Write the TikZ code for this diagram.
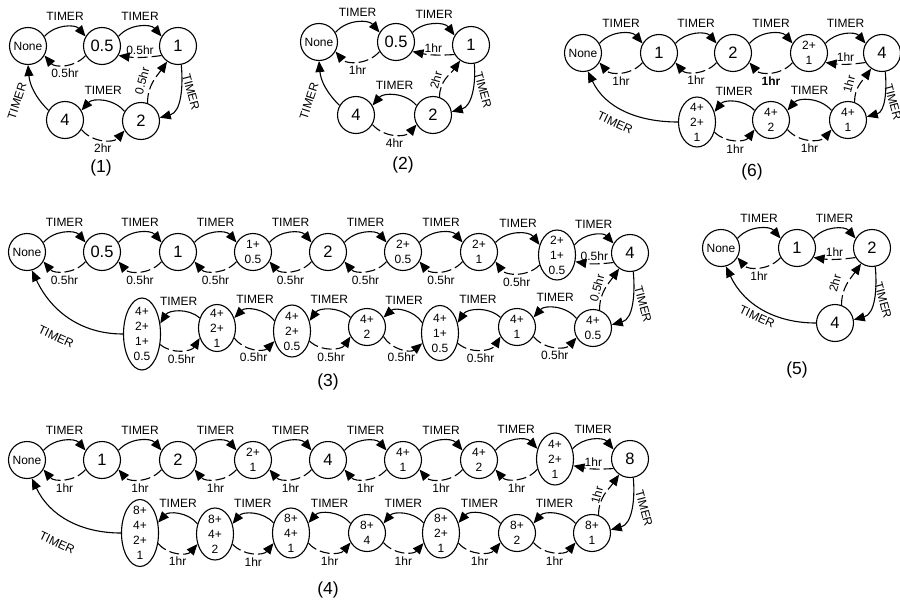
\documentclass[tikz,border=0pt]{standalone}
\usepackage{fontspec}
\setmainfont{Liberation Sans}
\usetikzlibrary{arrows.meta,shapes.geometric}

\tikzset{
  st/.style={draw, circle, line width=1.1pt, minimum size=37pt, inner sep=0pt, font=\fontsize{16.5}{18}\selectfont},
  sm/.style={font=\fontsize{12}{15}\selectfont, align=center},
  stk/.style={draw, ellipse, line width=1.1pt, minimum width=37pt, inner xsep=0pt, inner ysep=-12pt, align=center, font=\fontsize{12}{15}\selectfont},
  tmr/.style={-{Triangle[length=11pt,width=9pt]}, line width=1.1pt},
  bk/.style={tmr, dash pattern=on 10pt off 4pt},
  lbl/.style={font=\fontsize{12}{13}\selectfont, inner sep=1pt},
  ttl/.style={font=\fontsize{17.5}{19}\selectfont},
}

\begin{document}
\begin{tikzpicture}[x=1pt,y=1pt]
  \useasboundingbox (0,0) rectangle (900,-602);

  % (1)
  \node[st,sm] (p1n0) at (28,-46)  {None};
  \node[st]    (p1n1) at (102,-46) {0.5};
  \node[st]    (p1n2) at (178,-46) {1};
  \node[st]    (p1n3) at (141,-121) {2};
  \node[st]    (p1n4) at (65,-120) {4};
  \draw[tmr] (p1n0.30) to[bend left=50] node[lbl,above=5pt] {TIMER} (p1n1.150);
  \draw[bk] (p1n1.210) to[bend left=50] node[lbl,below=3pt] {0.5hr} (p1n0.330);
  \draw[tmr] (p1n1.30) to[bend left=50] node[lbl,above=5pt] {TIMER} (p1n2.150);
  \draw[bk] (p1n2.210) to[bend left=8] node[lbl,above=1pt] {0.5hr} (p1n1.330);
  \draw[tmr] (p1n2.-80) to[out=-85,in=15] (p1n3.10);
  \draw[bk] (p1n3.70) to[out=90,in=235] (p1n2.235);
  \draw[tmr] (p1n3.150) to[bend right=50] node[lbl,above=5pt] {TIMER} (p1n4.30);
  \draw[bk] (p1n4.330) to[bend right=50] node[lbl,below=3pt] {2hr} (p1n3.210);
  \draw[tmr] (p1n4.150) to[out=135,in=-85] (p1n0.-90);
  \node[lbl,rotate=-75] at (191,-92) {TIMER};
  \node[lbl,rotate=75] at (142,-81) {0.5hr};
  \node[lbl,rotate=72] at (17,-101) {TIMER};
  \node[ttl] at (101,-168) {(1)};

  % (2)
  \node[st,sm] (p2n0) at (319,-42) {None};
  \node[st]    (p2n1) at (396,-42) {0.5};
  \node[st]    (p2n2) at (471,-45) {1};
  \node[st]    (p2n3) at (433,-115) {2};
  \node[st]    (p2n4) at (356,-115) {4};
  \draw[tmr] (p2n0.30) to[bend left=50] node[lbl,above=5pt] {TIMER} (p2n1.150);
  \draw[bk] (p2n1.210) to[bend left=50] node[lbl,below=3pt] {1hr} (p2n0.330);
  \draw[tmr] (p2n1.30) to[bend left=50] node[lbl,above=5pt] {TIMER} (p2n2.150);
  \draw[bk] (p2n2.210) to[bend left=8] node[lbl,above=1pt] {1hr} (p2n1.330);
  \draw[tmr] (p2n2.-80) to[out=-85,in=15] (p2n3.10);
  \draw[bk] (p2n3.70) to[out=90,in=235] (p2n2.235);
  \draw[tmr] (p2n3.150) to[bend right=50] node[lbl,above=5pt] {TIMER} (p2n4.30);
  \draw[bk] (p2n4.330) to[bend right=50] node[lbl,below=3pt] {4hr} (p2n3.210);
  \draw[tmr] (p2n4.150) to[out=135,in=-85] (p2n0.-90);
  \node[lbl,rotate=-75] at (483,-90) {TIMER};
  \node[lbl,rotate=75] at (436,-80) {2hr};
  \node[lbl,rotate=72] at (309,-101) {TIMER};
  \node[ttl] at (403,-165) {(2)};

  % (6)
  \node[st,sm] (p6n0) at (583,-53) {None};
  \node[st]    (p6n1) at (659,-53) {1};
  \node[st]    (p6n2) at (733,-53) {2};
  \node[st,sm] (p6n3) at (809,-53) {2+\\1};
  \node[st]    (p6n4) at (882,-53) {4};
  \node[st,sm] (p6m0) at (848,-120) {4+\\1};
  \node[st,sm] (p6m1) at (771,-120) {4+\\2};
  \node[stk,minimum height=50pt] (p6m2) at (697,-122) {4+\\2+\\1};
  \foreach \a/\b/\t in {p6n0/p6n1/1hr, p6n1/p6n2/1hr, p6n2/p6n3/\textbf{1hr}} {
    \draw[tmr] (\a.30) to[bend left=50] node[lbl,above=5pt] {TIMER} (\b.150);
    \draw[bk] (\b.210) to[bend left=50] node[lbl,below=3pt] {\t} (\a.330);
  }
  \draw[tmr] (p6n3.30) to[bend left=50] node[lbl,above=5pt] {TIMER} (p6n4.150);
  \draw[bk] (p6n4.210) to[bend left=8] node[lbl,above=1pt] {1hr} (p6n3.330);
  \draw[tmr] (p6n4.-80) to[out=-85,in=15] (p6m0.10);
  \draw[bk] (p6m0.70) to[out=90,in=235] (p6n4.235);
  \foreach \b/\a in {p6m0/p6m1, p6m1/p6m2} {
    \draw[tmr] (\b.150) to[bend right=50] node[lbl,above=5pt] {TIMER} (\a.30);
    \draw[bk] (\a.330) to[bend right=50] node[lbl,below=3pt] {1hr} (\b.210);
  }
  \draw[tmr] (p6m2.west) to[out=180,in=-65] (p6n0.-75);
  \node[lbl,rotate=-75] at (893,-102) {TIMER};
  \node[lbl,rotate=75] at (849,-84) {1hr};
  \node[lbl,rotate=-25] at (615,-123) {TIMER};
  \node[ttl] at (752,-172) {(6)};

  % (3)
  \node[st,sm] (p3n0) at (27,-252)  {None};
  \node[st]    (p3n1) at (102,-252) {0.5};
  \node[st]    (p3n2) at (178,-252) {1};
  \node[st,sm] (p3n3) at (253,-252) {1+\\0.5};
  \node[st]    (p3n4) at (328,-252) {2};
  \node[st,sm] (p3n5) at (403,-252) {2+\\0.5};
  \node[st,sm] (p3n6) at (479,-252) {2+\\1};
  \node[stk,minimum height=50pt] (p3n7) at (557,-255) {2+\\1+\\0.5};
  \node[st]    (p3n8) at (630,-253) {4};
  \node[st,sm] (p3m0) at (593,-328) {4+\\0.5};
  \node[st,sm] (p3m1) at (517,-327) {4+\\1};
  \node[stk,minimum height=55pt] (p3m2) at (440,-333) {4+\\1+\\0.5};
  \node[st,sm] (p3m3) at (367,-327) {4+\\2};
  \node[stk,minimum height=52pt] (p3m4) at (292,-331) {4+\\2+\\0.5};
  \node[stk,minimum height=47pt] (p3m5) at (217,-328) {4+\\2+\\1};
  \node[stk,minimum height=72pt] (p3m6) at (142,-334) {4+\\2+\\1+\\0.5};
  \foreach \a/\b in {p3n0/p3n1, p3n1/p3n2, p3n2/p3n3, p3n3/p3n4, p3n4/p3n5, p3n5/p3n6, p3n6/p3n7} {
    \draw[tmr] (\a.30) to[bend left=50] node[lbl,above=5pt] {TIMER} (\b.150);
    \draw[bk] (\b.210) to[bend left=50] node[lbl,below=3pt] {0.5hr} (\a.330);
  }
  \draw[tmr] (p3n7.30) to[bend left=50] node[lbl,above=5pt] {TIMER} (p3n8.150);
  \draw[bk] (p3n8.210) to[bend left=8] node[lbl,above=1pt] {0.5hr} (p3n7.340);
  \draw[tmr] (p3n8.-80) to[out=-85,in=15] (p3m0.10);
  \draw[bk] (p3m0.70) to[out=90,in=235] (p3n8.235);
  \foreach \b/\a in {p3m0/p3m1, p3m1/p3m2, p3m2/p3m3, p3m3/p3m4, p3m4/p3m5, p3m5/p3m6} {
    \draw[tmr] (\b.150) to[bend right=50] node[lbl,above=5pt] {TIMER} (\a.30);
    \draw[bk] (\a.330) to[bend right=50] node[lbl,below=3pt] {0.5hr} (\b.210);
  }
  \draw[tmr] (p3m6.west) to[out=180,in=-65] (p3n0.-75);
  \node[lbl,rotate=-75] at (643,-304) {TIMER};
  \node[lbl,rotate=75] at (597,-288) {0.5hr};
  \node[lbl,rotate=-25] at (56,-337) {TIMER};
  \node[ttl] at (328,-382) {(3)};

  % (5)
  \node[st,sm] (p5n0) at (721,-248) {None};
  \node[st]    (p5n1) at (797,-248) {1};
  \node[st]    (p5n2) at (872,-248) {2};
  \node[st]    (p5n3) at (835,-323) {4};
  \draw[tmr] (p5n0.30) to[bend left=50] node[lbl,above=5pt] {TIMER} (p5n1.150);
  \draw[bk] (p5n1.210) to[bend left=50] node[lbl,below=3pt] {1hr} (p5n0.330);
  \draw[tmr] (p5n1.30) to[bend left=50] node[lbl,above=5pt] {TIMER} (p5n2.150);
  \draw[bk] (p5n2.210) to[bend left=8] node[lbl,above=1pt] {1hr} (p5n1.330);
  \draw[tmr] (p5n2.-80) to[out=-85,in=15] (p5n3.10);
  \draw[bk] (p5n3.70) to[out=90,in=235] (p5n2.235);
  \draw[tmr] (p5n3.west) to[out=180,in=-65] (p5n0.-75);
  \node[lbl,rotate=-75] at (883,-300) {TIMER};
  \node[lbl,rotate=75] at (835,-283) {2hr};
  \node[lbl,rotate=-25] at (757,-317) {TIMER};
  \node[ttl] at (797,-370) {(5)};

  % (4)
  \node[st,sm] (p4n0) at (27,-460)  {None};
  \node[st]    (p4n1) at (102,-460) {1};
  \node[st]    (p4n2) at (178,-460) {2};
  \node[st,sm] (p4n3) at (253,-460) {2+\\1};
  \node[st]    (p4n4) at (328,-460) {4};
  \node[st,sm] (p4n5) at (403,-460) {4+\\1};
  \node[st,sm] (p4n6) at (479,-460) {4+\\2};
  \node[stk,minimum height=52pt] (p4n7) at (555,-459) {4+\\2+\\1};
  \node[st]    (p4n8) at (630,-459) {8};
  \node[st,sm] (p4m0) at (592,-533) {8+\\1};
  \node[st,sm] (p4m1) at (517,-533) {8+\\2};
  \node[stk,minimum height=50pt] (p4m2) at (441,-533) {8+\\2+\\1};
  \node[st,sm] (p4m3) at (367,-533) {8+\\4};
  \node[stk,minimum height=50pt] (p4m4) at (291,-533) {8+\\4+\\1};
  \node[stk,minimum height=52pt] (p4m5) at (215,-534) {8+\\4+\\2};
  \node[stk,minimum height=67pt] (p4m6) at (140,-533) {8+\\4+\\2+\\1};
  \foreach \a/\b in {p4n0/p4n1, p4n1/p4n2, p4n2/p4n3, p4n3/p4n4, p4n4/p4n5, p4n5/p4n6, p4n6/p4n7} {
    \draw[tmr] (\a.30) to[bend left=50] node[lbl,above=5pt] {TIMER} (\b.150);
    \draw[bk] (\b.210) to[bend left=50] node[lbl,below=3pt] {1hr} (\a.330);
  }
  \draw[tmr] (p4n7.30) to[bend left=50] node[lbl,above=5pt] {TIMER} (p4n8.150);
  \draw[bk] (p4n8.210) to[bend left=8] node[lbl,above=1pt] {1hr} (p4n7.340);
  \draw[tmr] (p4n8.-80) to[out=-85,in=15] (p4m0.10);
  \draw[bk] (p4m0.70) to[out=90,in=235] (p4n8.235);
  \foreach \b/\a in {p4m0/p4m1, p4m1/p4m2, p4m2/p4m3, p4m3/p4m4, p4m4/p4m5, p4m5/p4m6} {
    \draw[tmr] (\b.150) to[bend right=50] node[lbl,above=5pt] {TIMER} (\a.30);
    \draw[bk] (\a.330) to[bend right=50] node[lbl,below=3pt] {1hr} (\b.210);
  }
  \draw[tmr] (p4m6.west) to[out=180,in=-65] (p4n0.-75);
  \node[lbl,rotate=-75] at (644,-508) {TIMER};
  \node[lbl,rotate=75] at (597,-495) {1hr};
  \node[lbl,rotate=-25] at (57,-543) {TIMER};
  \node[ttl] at (328,-590) {(4)};
\end{tikzpicture}
\end{document}
